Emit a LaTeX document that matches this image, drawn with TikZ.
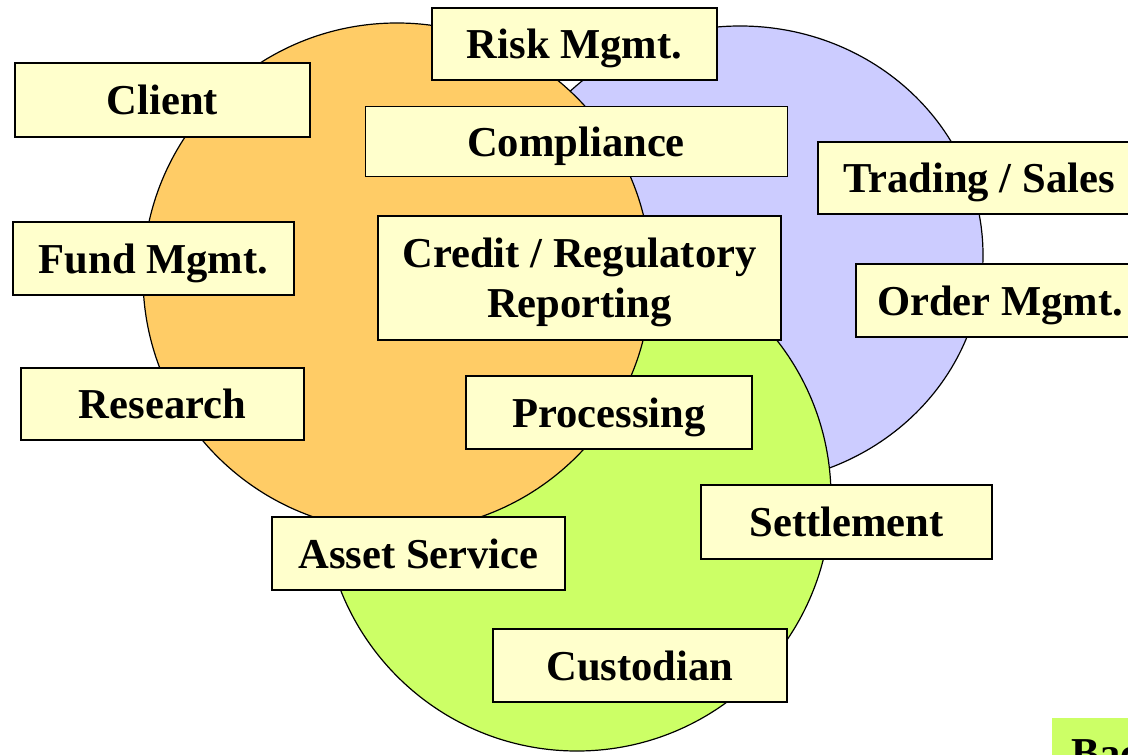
\documentclass[tikz,border=0pt]{standalone}
\usepackage{fontspec}
\setmainfont{Liberation Serif}
\definecolor{orangearea}{HTML}{FFCC66}
\definecolor{bluearea}{HTML}{CCCCFF}
\definecolor{greenarea}{HTML}{CCFF66}
\definecolor{boxfill}{HTML}{FFFFCC}
\tikzset{
	area/.style={draw=black, line width=0.6pt},
	box/.style={draw=black, line width=1pt, fill=boxfill, align=center, inner sep=0pt, text depth=0pt,
		font=\fontsize{21.3}{25}\selectfont\bfseries},
}
\begin{document}
\begin{tikzpicture}[x=0.5pt, y=-0.5pt]
					\useasboundingbox (0,0) rectangle (1128,754);
					\clip (0,0) rectangle (1128,754);
					
					%%% Aree
					\draw[area, fill=bluearea] (740,255) ellipse [x radius=243, y radius=229];	% Front office
					\draw[area, fill=greenarea] (577,497) circle (254);							% Back office
					\draw[area, fill=orangearea] (397,277) circle (254);							% Middle office
					
					%%% Riquadri
					\node (risk) [box, minimum width=142.5pt, minimum height=36pt] at (574.5,44) {Risk Mgmt.};
					\node (client) [box, minimum width=147.5pt, minimum height=37pt] at (162.5,100) {Client};
					\node (compliance) [box, line width=0.5pt, minimum width=211pt, minimum height=35pt] at (576,142) {Compliance};
					\node (fund) [box, minimum width=140.5pt, minimum height=36.5pt] at (153.5,258.5) {Fund Mgmt.};
					\node (credit) [box, minimum width=201.5pt, minimum height=62pt] at (579.5,278) {Credit / Regulatory\\Reporting};
					\node (trading) [box, minimum width=161pt, minimum height=36pt] at (979,178) {Trading / Sales};
					\node (order) [box, minimum width=144pt, minimum height=36.5pt] at (1000,300.5) {Order Mgmt.};
					\node (research) [box, minimum width=141.5pt, minimum height=36pt] at (162.5,404) {Research};
					\node (processing) [box, minimum width=143pt, minimum height=36.5pt] at (609,412.5) {Processing};
					\node (settlement) [box, minimum width=145.5pt, minimum height=37pt] at (846.5,522) {Settlement};
					\node (asset) [box, minimum width=146.5pt, minimum height=36.5pt] at (418.5,553.5) {Asset Service};
					\node (custodian) [box, minimum width=147pt, minimum height=36.5pt] at (640,665.5) {Custodian};
					
					%%% Legenda (tagliata)
					\node (back) [box, draw=none, fill=greenarea, anchor=north west, align=left, text width=130pt,
						inner xsep=9.5pt, inner ysep=11pt] at (1051,717) {Bac};
				\end{tikzpicture}
\end{document}
